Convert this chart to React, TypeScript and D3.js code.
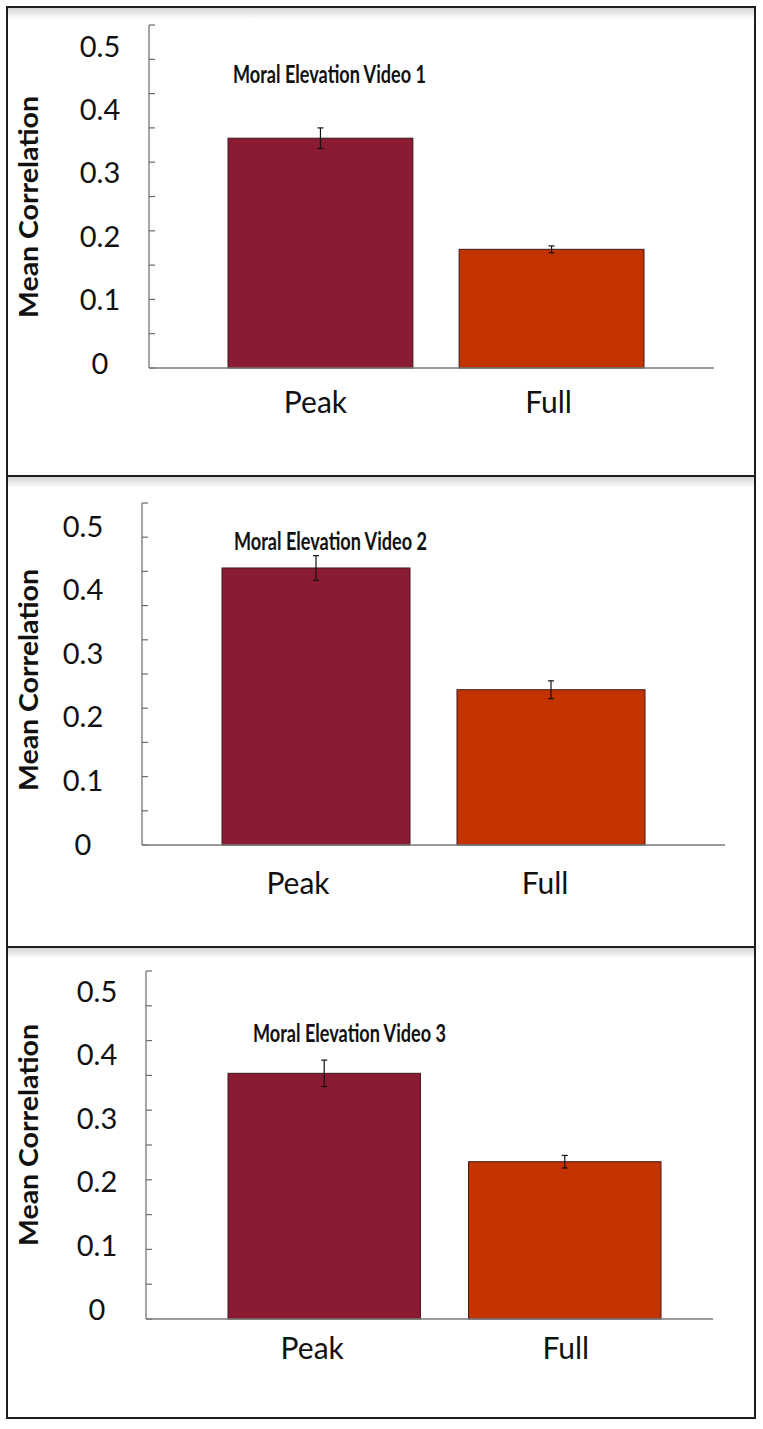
import { useEffect, useRef } from 'react';
import * as d3 from 'd3';

// categories and values
const categories = ['Peak', 'Full'];
const panelTitles = ['Moral Elevation Video 1', 'Moral Elevation Video 2', 'Moral Elevation Video 3'];
const video1Means = [0.335, 0.173];
const video1Errors = [0.015, 0.005];
const video2Means = [0.405, 0.227];
const video2Errors = [0.018, 0.013];
const video3Means = [0.353, 0.226];
const video3Errors = [0.019, 0.009];
const tickLabelValues = [0, 0.1, 0.2, 0.3, 0.4, 0.5];
const tickLabelTexts = ['0', '0.1', '0.2', '0.3', '0.4', '0.5'];
const yAxisTitle = 'Mean Correlation';

const barColors = ['#8b1a33', '#c33300'];
const FONT = 'Lato, "Open Sans", sans-serif';

// per panel geometry (pixels)
const layouts = [
    { top: 7, bottom: 476, axisX: 149, y0: 368, y1: 25, barX0: 228, barX1: 644, xEnd: 714,
      labelX: 100, label0: 362, labelTop: 45, catY: 413, catDx: [-5, -3], titleX: 233, titleY: 83, yTitleY: 207 },
    { top: 476, bottom: 947, axisX: 142, y0: 845, y1: 503, barX0: 222, barX1: 645, xEnd: 725,
      labelX: 83, label0: 843, labelTop: 525, catY: 894, catDx: [-18, -6], titleX: 234, titleY: 550, yTitleY: 680 },
    { top: 947, bottom: 1418, axisX: 146, y0: 1319, y1: 971, barX0: 228, barX1: 661, xEnd: 713,
      labelX: 97, label0: 1308, labelTop: 990, catY: 1359, catDx: [-12, 1], titleX: 253, titleY: 1042, yTitleY: 1135 },
];

const App = () => {
    const svgRef = useRef(null);

    useEffect(() => {
        const width = 763;
        const height = 1429;
        const svg = d3.select(svgRef.current).attr('width', width).attr('height', height);
        svg.selectAll('*').remove();

        const defs = svg.append('defs');
        const grad = defs.append('linearGradient')
            .attr('id', 'topShade').attr('x1', 0).attr('y1', 0).attr('x2', 0).attr('y2', 1);
        grad.append('stop').attr('offset', '0%').attr('stop-color', '#d4d4d4');
        grad.append('stop').attr('offset', '100%').attr('stop-color', '#ffffff');

        svg.append('rect').attr('width', width).attr('height', height).attr('fill', '#ffffff');

        const allMeans = [video1Means, video2Means, video3Means];
        const allErrors = [video1Errors, video2Errors, video3Errors];

        layouts.forEach((L, i) => {
            const g = svg.append('g');

            // soft shading under each panel's top border
            g.append('rect')
                .attr('x', 8).attr('y', L.top + 1)
                .attr('width', 746).attr('height', 11)
                .attr('fill', 'url(#topShade)');

            const y = d3.scaleLinear().domain([0, 0.5]).range([L.y0, L.y1]);
            const labelY = d3.scaleLinear().domain([0, 0.5]).range([L.label0, L.labelTop]);
            const x = d3.scaleBand()
                .domain(categories)
                .range([L.barX0, L.barX1])
                .paddingInner(0.2)
                .paddingOuter(0);

            // y axis line with small ticks every 0.05 pointing inward
            g.append('line')
                .attr('x1', L.axisX).attr('x2', L.axisX)
                .attr('y1', y(0.5)).attr('y2', y(0))
                .attr('stroke', '#6b6b6b').attr('stroke-width', 1.2);
            g.selectAll('.tick')
                .data(d3.range(0, 11).map(k => k * 0.05))
                .enter()
                .append('line')
                .attr('x1', L.axisX).attr('x2', L.axisX + 6)
                .attr('y1', d => y(d)).attr('y2', d => y(d))
                .attr('stroke', '#6b6b6b').attr('stroke-width', 1.2);

            // tick labels (placed a little apart from the ticks, as in the original)
            g.selectAll('.tick-label')
                .data(tickLabelValues)
                .enter()
                .append('text')
                .text((d, k) => tickLabelTexts[k])
                .attr('x', L.labelX)
                .attr('y', d => labelY(d))
                .attr('text-anchor', 'middle')
                .attr('dominant-baseline', 'central')
                .style('font-family', FONT)
                .style('font-size', '29px')
                .style('fill', '#111');

            // bars
            const means = allMeans[i];
            const errors = allErrors[i];
            g.selectAll('.bar')
                .data(categories)
                .enter()
                .append('rect')
                .attr('x', d => x(d))
                .attr('y', (d, k) => y(means[k]))
                .attr('width', x.bandwidth())
                .attr('height', (d, k) => y(0) - y(means[k]))
                .attr('fill', (d, k) => barColors[k])
                .attr('stroke', '#3a1a1a')
                .attr('stroke-width', 1);

            // error bars
            categories.forEach((c, k) => {
                const cx = x(c) + x.bandwidth() / 2;
                const hi = y(means[k] + errors[k]);
                const lo = y(means[k] - errors[k]);
                g.append('line').attr('x1', cx).attr('x2', cx).attr('y1', hi).attr('y2', lo)
                    .attr('stroke', '#111').attr('stroke-width', 1.2);
                [hi, lo].forEach(yy => {
                    g.append('line').attr('x1', cx - 3).attr('x2', cx + 3).attr('y1', yy).attr('y2', yy)
                        .attr('stroke', '#111').attr('stroke-width', 1.2);
                });
            });

            // x axis line
            g.append('line')
                .attr('x1', L.axisX).attr('x2', L.xEnd)
                .attr('y1', y(0)).attr('y2', y(0))
                .attr('stroke', '#7a7a7a').attr('stroke-width', 1.5);

            // category labels
            g.selectAll('.cat-label')
                .data(categories)
                .enter()
                .append('text')
                .text(d => d)
                .attr('x', (d, k) => x(d) + x.bandwidth() / 2 + L.catDx[k])
                .attr('y', L.catY)
                .attr('text-anchor', 'middle')
                .style('font-family', FONT)
                .style('font-size', '30px')
                .style('fill', '#111');

            // panel title
            g.append('text')
                .text(panelTitles[i])
                .attr('x', L.titleX)
                .attr('y', L.titleY)
                .attr('textLength', 193)
                .attr('lengthAdjust', 'spacingAndGlyphs')
                .style('font-family', FONT)
                .style('font-weight', 'bold')
                .style('font-size', '25px')
                .style('fill', '#111');

            // y axis title
            g.append('text')
                .text(yAxisTitle)
                .attr('transform', `translate(28, ${L.yTitleY}) rotate(-90)`)
                .attr('text-anchor', 'middle')
                .attr('dominant-baseline', 'central')
                .attr('textLength', 222)
                .attr('lengthAdjust', 'spacingAndGlyphs')
                .style('font-family', FONT)
                .style('font-weight', 'bold')
                .style('font-size', '26px')
                .style('fill', '#111');
        });

        // frame and dividers
        svg.append('rect')
            .attr('x', 7).attr('y', 7)
            .attr('width', 748).attr('height', 1411)
            .attr('fill', 'none')
            .attr('stroke', '#1e1e1e').attr('stroke-width', 2);
        [476, 947].forEach(yy => {
            svg.append('line')
                .attr('x1', 7).attr('x2', 755).attr('y1', yy).attr('y2', yy)
                .attr('stroke', '#1e1e1e').attr('stroke-width', 2);
        });
    }, []);

    return <svg ref={svgRef} style={{ position: 'absolute', left: 0, top: 0 }} />;
};

export default App;
